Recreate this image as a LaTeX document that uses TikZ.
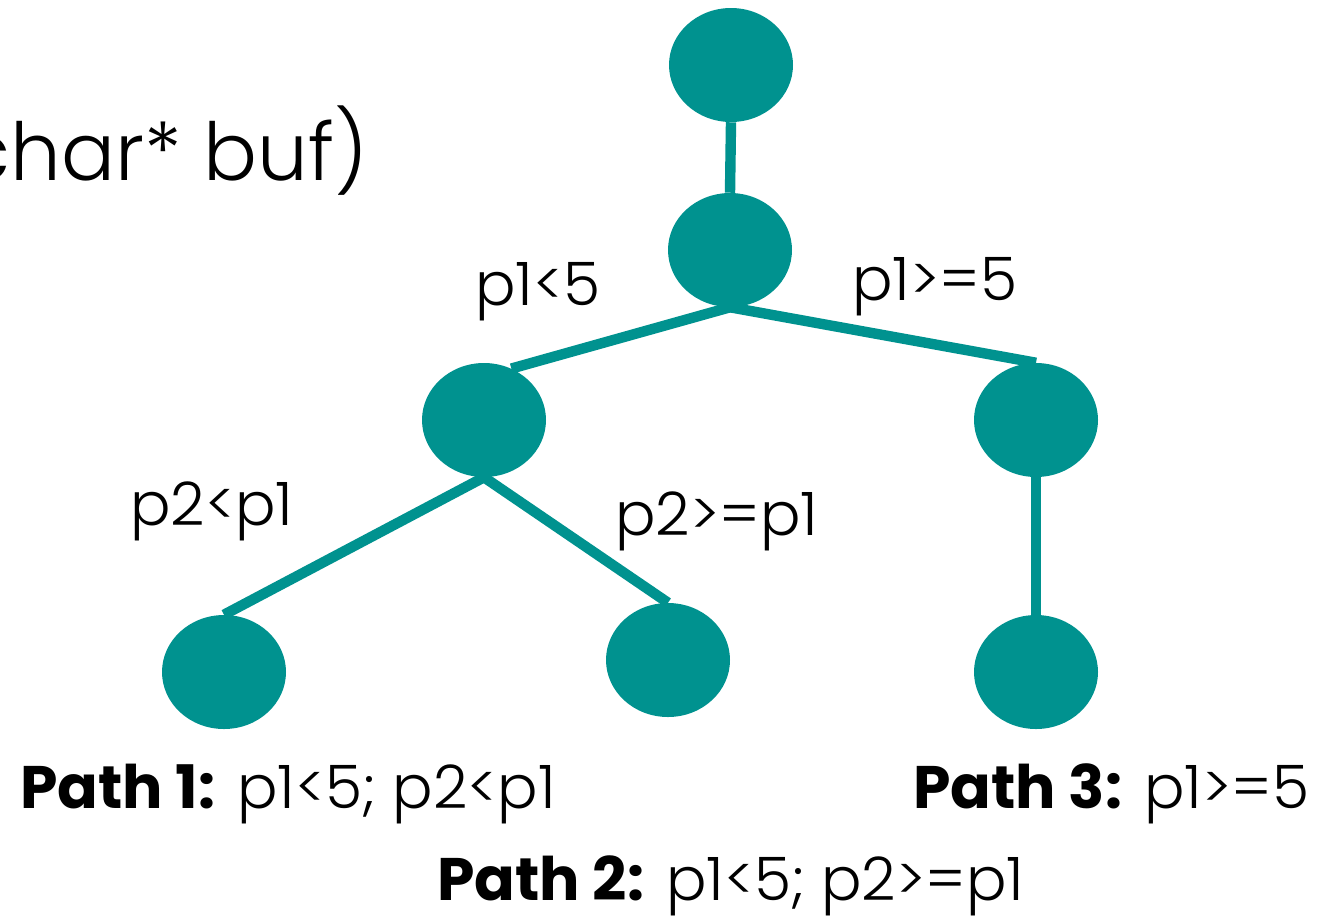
\documentclass[tikz,border=0pt]{standalone}
\usepackage{fontspec}
\setmainfont{Poppins}[UprightFont=*-Light,BoldFont=*-Bold]
\usetikzlibrary{shapes.geometric}
\definecolor{tealnode}{RGB}{0,146,143}

\tikzset{
  vertex/.style={ellipse,fill=tealnode,draw=none,inner sep=0pt,minimum width=93pt,minimum height=85.5pt},
  branch/.style={draw=tealnode,line width=7.8pt},
  cond/.style={anchor=base west,inner sep=0pt,font=\fontsize{45}{54}\selectfont},
}

\begin{document}
\begin{tikzpicture}[x=0.75pt,y=0.75pt,yscale=-1,xscale=1]
\useasboundingbox (0,0) rectangle (1327,915);

%Shape: Ellipse [tree nodes]
\node [vertex] (root) at (731,65) {};
\node [vertex] (split) at (730,250) {};
\node [vertex] (lo) at (484,420) {};
\node [vertex] (hi) at (1036,420) {};
\node [vertex] (lolo) at (224,672) {};
\node [vertex] (lohi) at (668,660) {};
\node [vertex] (hihi) at (1036,672) {};

%Straight Lines [branches]
\draw [branch] (root.south) -- (split.north);
\draw [branch] (split.south) -- (lo.62);
\draw [branch] (split.south) -- (hi.north);
\draw [branch] (lo.south) -- (lolo.north);
\draw [branch] (lo.south) -- (lohi.north);
\draw [branch] (hi.south) -- (hihi.north);

% Text Node
\node [anchor=base east,inner sep=0pt,font=\fontsize{60}{70}\selectfont] (sig) at (368,180) {char* buf)};
% Text Node
\node [cond] (c1) at (475,305) {p1<5};
% Text Node
\node [cond] (c2) at (852,300) {p1>=5};
% Text Node
\node [cond] (c3) at (130,525) {p2<p1};
% Text Node
\node [cond] (c4) at (615,535) {p2>=p1};

% Text Node
\node [cond] (path1) at (20,808) {\textbf{Path 1:} p1<5; p2<p1};
% Text Node
\node [cond] (path2) at (437,900) {\textbf{Path 2:} p1<5; p2>=p1};
% Text Node
\node [cond] (path3) at (913,808) {\textbf{Path 3:} p1>=5};

\end{tikzpicture}
\end{document}
